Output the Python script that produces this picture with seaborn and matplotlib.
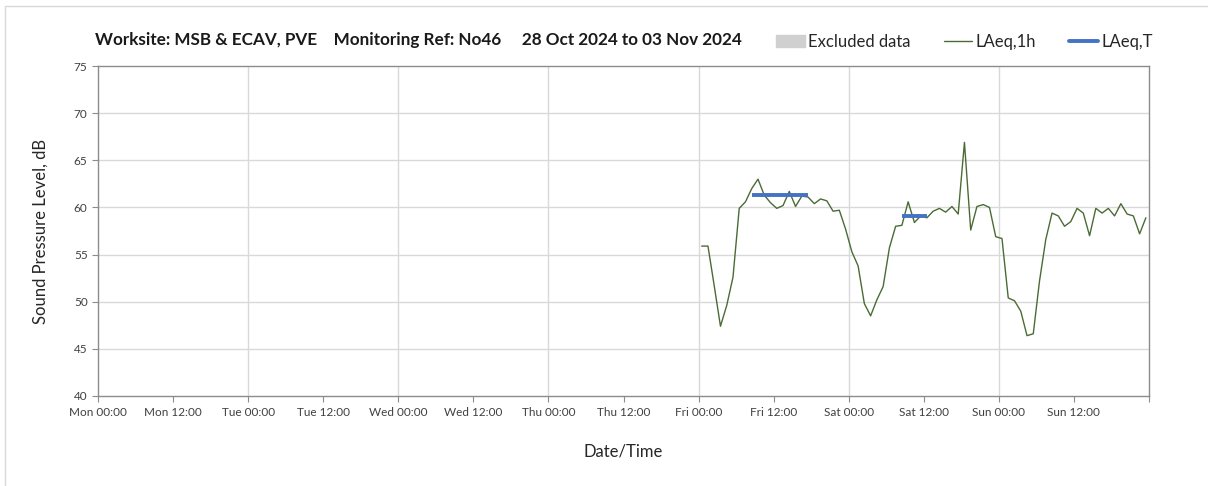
import matplotlib
matplotlib.use("Agg")
import matplotlib.pyplot as plt
import matplotlib.patches as mpatches
from matplotlib.lines import Line2D
import seaborn as sns
import pandas as pd
import numpy as np

# ---------------- data ----------------
title_text = "Worksite: MSB & ECAV, PVE    Monitoring Ref: No46     28 Oct 2024 to 03 Nov 2024"
tick_labels = ["Mon 00:00", "Mon 12:00", "Tue 00:00", "Tue 12:00", "Wed 00:00", "Wed 12:00",
               "Thu 00:00", "Thu 12:00", "Fri 00:00", "Fri 12:00", "Sat 00:00", "Sat 12:00",
               "Sun 00:00", "Sun 12:00"]
tick_hours = [0, 12, 24, 36, 48, 60, 72, 84, 96, 108, 120, 132, 144, 156]

# hourly LAeq,1h from Fri 00:00 (hours since Mon 00:00, mid-hour)
laeq1h_start_hour = 96.5
laeq1h = [55.9, 55.9, 51.7, 47.4, 49.6, 52.6, 59.9, 60.6, 62.0, 63.0,
          61.3, 60.5, 59.9, 60.2, 61.7, 60.1, 61.2, 61.1, 60.4, 60.9,
          60.7, 59.6, 59.7, 57.7, 55.3, 53.8, 49.8, 48.5, 50.2, 51.6,
          55.7, 58.0, 58.1, 60.6, 58.4, 59.1, 58.9, 59.6, 59.9, 59.5,
          60.1, 59.3, 66.9, 57.6, 60.1, 60.3, 60.0, 56.9, 56.7, 50.4,
          50.1, 49.0, 46.4, 46.6, 52.2, 56.6, 59.4, 59.1, 58.0, 58.5,
          59.9, 59.4, 57.0, 59.9, 59.4, 59.9, 59.1, 60.4, 59.3, 59.1,
          57.2, 58.9]
laeq1h_hours = [laeq1h_start_hour + i for i in range(len(laeq1h))]

# LAeq,T periods (hours since Mon 00:00, level)
laeqT_hours_1 = [104.5, 105.5, 106.5, 107.5, 108.5, 109.5, 110.5, 111.5, 112.5, 113.5]
laeqT_vals_1 = [61.3] * 10
laeqT_hours_2 = [128.5, 129.5, 130.5, 131.5, 132.5]
laeqT_vals_2 = [59.1] * 5

excluded_spans = []  # no excluded data this week

# ---------------- style ----------------
sns.set_theme(style="white")
plt.rcParams["font.family"] = ["Lato", "DejaVu Sans"]

GREEN = "#4b6b36"
BLUE = "#4472C4"
TXT = "#262626"

fig = plt.figure(figsize=(12.08, 4.86), dpi=100)
W, H = 1208, 486
ax = fig.add_axes([98 / W, 1 - 396 / H, (1149 - 98) / W, (396 - 66) / H])

df1 = pd.DataFrame({"hour": laeq1h_hours, "level": laeq1h})
sns.lineplot(data=df1, x="hour", y="level", ax=ax, color=GREEN, linewidth=1.0, zorder=3)

for hrs, vals in [(laeqT_hours_1, laeqT_vals_1), (laeqT_hours_2, laeqT_vals_2)]:
    d = pd.DataFrame({"hour": hrs, "level": vals})
    sns.lineplot(data=d, x="hour", y="level", ax=ax, color=BLUE, linewidth=2.8,
                 zorder=4, solid_capstyle="butt")

for s, e in excluded_spans:
    ax.axvspan(s, e, color="#d0d0d0", zorder=1)

ax.set_xlim(0, 168)
ax.set_ylim(40, 75)
ax.set_yticks(np.arange(40, 76, 5))
ax.set_xticks(tick_hours)
ax.set_xticklabels(tick_labels)
ax.set_xticks(np.arange(0, 169, 24), minor=True)

ax.grid(False)
for h in range(24, 168, 24):
    ax.axvline(h, color="#d9d9d9", linewidth=1.0, zorder=0)
for v in range(45, 75, 5):
    ax.axhline(v, color="#d9d9d9", linewidth=1.0, zorder=0)

for sp in ax.spines.values():
    sp.set_color("#8c8c8c")
    sp.set_linewidth(1.0)

ax.tick_params(axis="both", which="both", direction="out", length=4, width=0.8,
               color="#8c8c8c", labelsize=8.5, labelcolor="#404040", bottom=True, left=True)
ax.tick_params(axis="x", which="major", pad=4)

ax.set_xlabel("Date/Time", fontsize=12, color=TXT, labelpad=18)
ax.set_ylabel("Sound Pressure Level, dB", fontsize=12, color=TXT, labelpad=18)

fig.text(95 / W, 1 - 40 / H, title_text, fontsize=12.3, fontweight="bold",
         color="#1a1a1a", va="center", ha="left")

handles = [mpatches.Patch(color="#d0d0d0", label="Excluded data"),
           Line2D([], [], color=GREEN, linewidth=1.0, label="LAeq,1h"),
           Line2D([], [], color=BLUE, linewidth=2.8, label="LAeq,T")]
fig.legend(handles=handles, loc="center left", bbox_to_anchor=(768 / W, 1 - 42 / H),
           ncol=3, frameon=False, fontsize=12, handlelength=1.7, handletextpad=0.2,
           columnspacing=2.0, labelcolor=TXT, borderpad=0.0)

# chart area border (left and top)
fig.add_artist(Line2D([5 / W, 5 / W], [0, 1 - 6 / H], color="#d9d9d9", linewidth=1.0))
fig.add_artist(Line2D([5 / W, 1], [1 - 6 / H, 1 - 6 / H], color="#d9d9d9", linewidth=1.0))

fig.savefig("out.png", dpi=100, facecolor="white")
